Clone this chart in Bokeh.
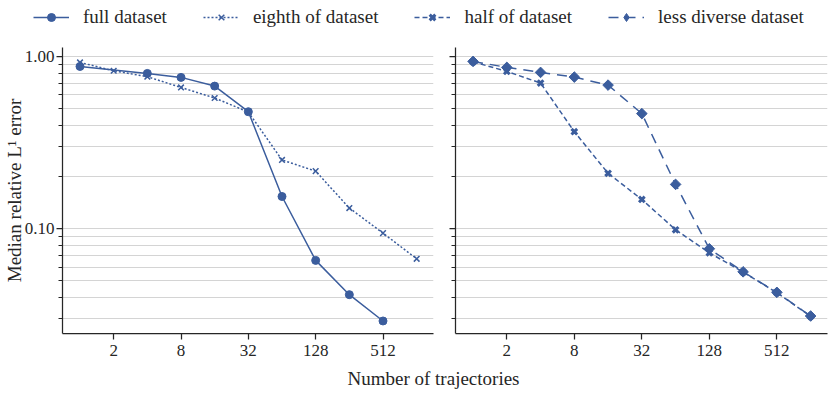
import numpy as np
from bokeh.plotting import figure
from bokeh.models import (Range1d, FixedTicker, PrintfTickFormatter, CustomJSTickFormatter,
                          Legend, LegendItem, Label)
from bokeh.layouts import column, row
from bokeh.embed import file_html
from bokeh.resources import INLINE

# ---------------- data ----------------
n_traj = [1, 2, 4, 8, 16, 32, 64, 128, 256, 512, 1024]
full_x = [1, 4, 8, 16, 32, 64, 128, 256, 512]
full_y = [0.875, 0.797, 0.756, 0.673, 0.478, 0.154, 0.0656, 0.0415, 0.0292]
eighth_y = [0.923, 0.826, 0.763, 0.661, 0.574, 0.476, 0.251, 0.216, 0.132, 0.0944, 0.067]
half_y = [0.931, 0.819, 0.701, 0.366, 0.210, 0.148, 0.0987, 0.0726, 0.0561, 0.0426, 0.0311]
diverse_y = [0.936, 0.864, 0.808, 0.759, 0.682, 0.466, 0.181, 0.0766, 0.0563, 0.0428, 0.0312]
x_ticks = [2, 8, 32, 128, 512]
y_ticks = [0.1, 1.0]
y_minor = [m * 10.0 ** k for k in (-2, -1) for m in range(2, 10) if m * 10.0 ** k > 0.025]
labels = ["full dataset", "eighth of dataset", "half of dataset", "less diverse dataset"]
x_label = "Number of trajectories"
y_label = "Median relative L\u00b9 error"

FONT = "Liberation Serif"
TXT = "#262626"
BLUE = "#3b5d9d"
GRID = "#d4d4d4"


def make_panel(width, mb_left, mb_right, show_labels):
    p = figure(width=width, height=329, x_axis_type="log", y_axis_type="log",
               x_range=Range1d(2 ** -0.52, 2 ** 10.5), y_range=Range1d(0.0247, 1.127),
               output_backend="svg", toolbar_location=None,
               min_border_left=mb_left, min_border_right=mb_right,
               min_border_top=13, min_border_bottom=30)
    p.outline_line_color = None
    p.background_fill_color = "white"
    p.xgrid.grid_line_color = None
    yt = FixedTicker(ticks=y_ticks, minor_ticks=y_minor)
    p.yaxis.ticker = yt
    p.ygrid.ticker = yt
    p.ygrid.grid_line_color = GRID
    p.ygrid.minor_grid_line_color = GRID
    p.ygrid.grid_line_width = 1
    p.ygrid.minor_grid_line_width = 1
    p.xaxis.ticker = FixedTicker(ticks=x_ticks, minor_ticks=[])
    p.xaxis.formatter = PrintfTickFormatter(format="%d")
    for ax in (p.xaxis[0], p.yaxis[0]):
        ax.axis_line_color = TXT
        ax.axis_line_width = 1.25
        ax.major_tick_line_color = TXT
        ax.minor_tick_line_color = TXT
        ax.major_tick_line_width = 1.25
        ax.minor_tick_line_width = 1
        ax.major_tick_out = 6
        ax.major_tick_in = 0
        ax.minor_tick_out = 4
        ax.minor_tick_in = 0
        ax.major_label_text_font = FONT
        ax.major_label_text_font_size = "17px"
        ax.major_label_text_color = TXT
        ax.major_label_standoff = 2
        ax.axis_label_text_font = FONT
        ax.axis_label_text_font_size = "19px"
        ax.axis_label_text_font_style = "normal"
        ax.axis_label_text_color = TXT
        ax.axis_label_standoff = -3
    p.xaxis.major_label_standoff = 5
    if show_labels:
        p.yaxis.formatter = PrintfTickFormatter(format="%.2f")
        p.yaxis.axis_label = y_label
    else:
        p.yaxis.formatter = CustomJSTickFormatter(code="return ''")
    return p


left = make_panel(436, 62, 3, True)
right = make_panel(395, 19, 4, False)

# left panel
left.line(full_x, full_y, line_color=BLUE, line_width=1.5)
left.scatter(full_x, full_y, marker="circle", size=8, fill_color=BLUE, line_color=BLUE)
left.line(n_traj, eighth_y, line_color=BLUE, line_width=1.5, line_dash="2 2")
left.scatter(n_traj, eighth_y, marker="x", size=8, line_color=BLUE, line_width=1.5)

# right panel
right.line(n_traj, half_y, line_color=BLUE, line_width=1.5, line_dash="5 3")
right.scatter(n_traj, half_y, marker="x", size=8, line_color=BLUE, line_width=3)
right.line(n_traj, diverse_y, line_color=BLUE, line_width=1.5, line_dash="10 7")
right.scatter(n_traj, diverse_y, marker="square", angle=np.pi / 4, size=7.5,
              fill_color=BLUE, line_color=BLUE)

# legend strip (series drawn outside the visible range; only legend shows)
leg = figure(width=831, height=34, output_backend="svg", toolbar_location=None,
             x_axis_location=None, y_axis_location=None, min_border=0,
             x_range=Range1d(-3, -2), y_range=Range1d(-3, -2))
leg.outline_line_color = None
leg.grid.visible = False
series = [
    (full_x, full_y, "solid", "circle", 1),
    (n_traj, eighth_y, "2 2", "x", 1.5),
    (n_traj, half_y, "5 3", "x", 3),
    (n_traj, diverse_y, "10 7", "diamond", 1),
]
items = []
for lab, (xs, ys, dash, mk, mlw) in zip(labels, series):
    lr = leg.line(xs, ys, line_color=BLUE, line_width=1.5, line_dash=dash)
    sr = leg.scatter(xs, ys, marker=mk, fill_color=BLUE, line_color=BLUE, line_width=mlw)
    items.append(LegendItem(label=lab, renderers=[lr, sr]))
legend = Legend(items=items, orientation="horizontal", location=(33, 6),
                label_text_font=FONT, label_text_font_size="19px", label_text_color=TXT,
                glyph_width=36, glyph_height=20, label_standoff=14, spacing=36,
                padding=0, margin=0, border_line_alpha=0, background_fill_alpha=0)
leg.add_layout(legend)

# bottom label strip
bot = figure(width=831, height=30, output_backend="svg", toolbar_location=None,
             x_axis_location=None, y_axis_location=None, min_border=0,
             x_range=Range1d(0, 1), y_range=Range1d(0, 1))
bot.outline_line_color = None
bot.grid.visible = False
bot.add_layout(Label(x=433, y=15, x_units="screen", y_units="screen", text=x_label,
                     text_align="center", text_baseline="middle", text_font=FONT,
                     text_font_size="19px", text_color=TXT))

layout = column(leg, row(left, right), bot)
open("out.html", "w").write(file_html(layout, INLINE))
